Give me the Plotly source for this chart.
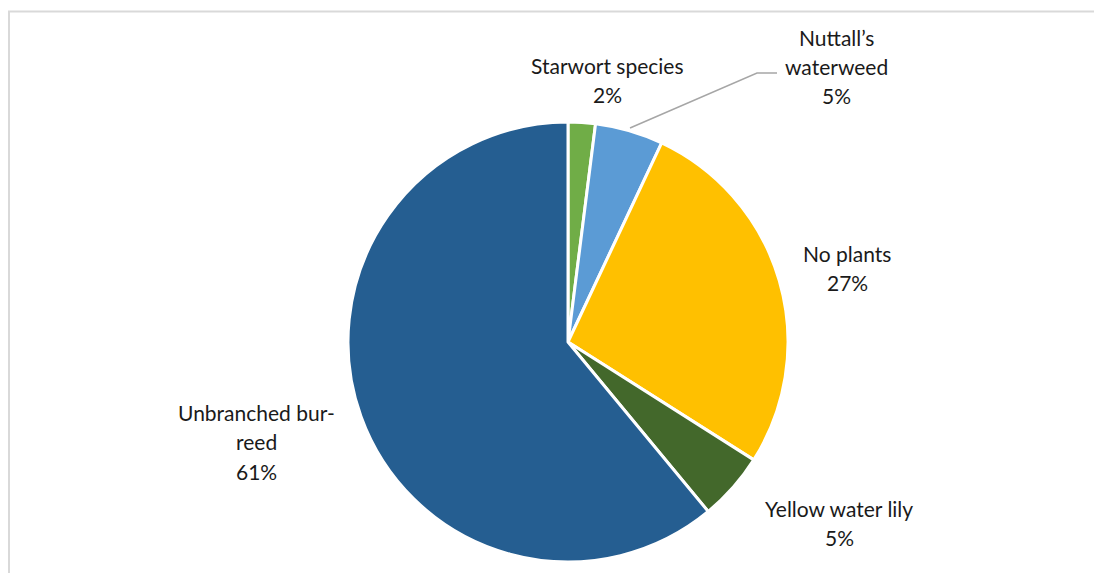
import plotly.graph_objects as go

# Survey composition of plant cover (percent of sampled points)
species = ["Starwort species", "Nuttall’s waterweed", "No plants",
           "Yellow water lily", "Unbranched bur-reed"]
shares = [2, 5, 27, 5, 61]
colors = ["#70AD47", "#5B9BD5", "#FFC000", "#43682B", "#255E91"]

# How each label is broken into lines
label_lines = [
    ["Starwort species"],
    ["Nuttall’s", "waterweed"],
    ["No plants"],
    ["Yellow water lily"],
    ["Unbranched bur-", "reed"],
]
# Label anchor (centre x, first-line y) in pixels
label_anchor = [(607, 65), (836, 37), (847, 253), (839, 508), (256, 412)]

W, H = 1094, 573
CX, CY, R = 568, 342, 220
LINE_GAP = 29.5


def px(x):
    return x / W


def py(y):
    return 1 - y / H


fig = go.Figure(go.Pie(
    labels=species,
    values=shares,
    marker=dict(colors=colors, line=dict(color="white", width=3)),
    sort=False,
    direction="clockwise",
    rotation=0,
    textinfo="none",
    hoverinfo="label+percent",
    showlegend=False,
    domain=dict(x=[px(CX - R), px(CX + R)], y=[py(CY + R), py(CY - R)]),
))

annotations = []
for lines, val, (ax, ay) in zip(label_lines, shares, label_anchor):
    for i, t in enumerate(lines + [f"{val}%"]):
        annotations.append(dict(
            x=px(ax), y=py(ay + i * LINE_GAP), xref="paper", yref="paper",
            text=t, showarrow=False, xanchor="center", yanchor="middle",
            font=dict(family="Lato, 'Open Sans', sans-serif", size=21, color="#1a1a1a"),
        ))

shapes = [
    # chart frame (top and left edges)
    dict(type="path", xref="paper", yref="paper",
         path=f"M {px(9)} 0 L {px(9)} {py(11.5)} L 1 {py(11.5)}",
         line=dict(color="#d9d9d9", width=2)),
    # leader line to the small slice label
    dict(type="path", xref="paper", yref="paper",
         path=f"M {px(630)} {py(128)} L {px(757)} {py(73)} L {px(777)} {py(73)}",
         line=dict(color="#a6a6a6", width=1.5)),
]

fig.update_layout(
    width=W, height=H,
    margin=dict(l=0, r=0, t=0, b=0),
    paper_bgcolor="white",
    plot_bgcolor="white",
    annotations=annotations,
    shapes=shapes,
)

fig.write_html("out.html")
